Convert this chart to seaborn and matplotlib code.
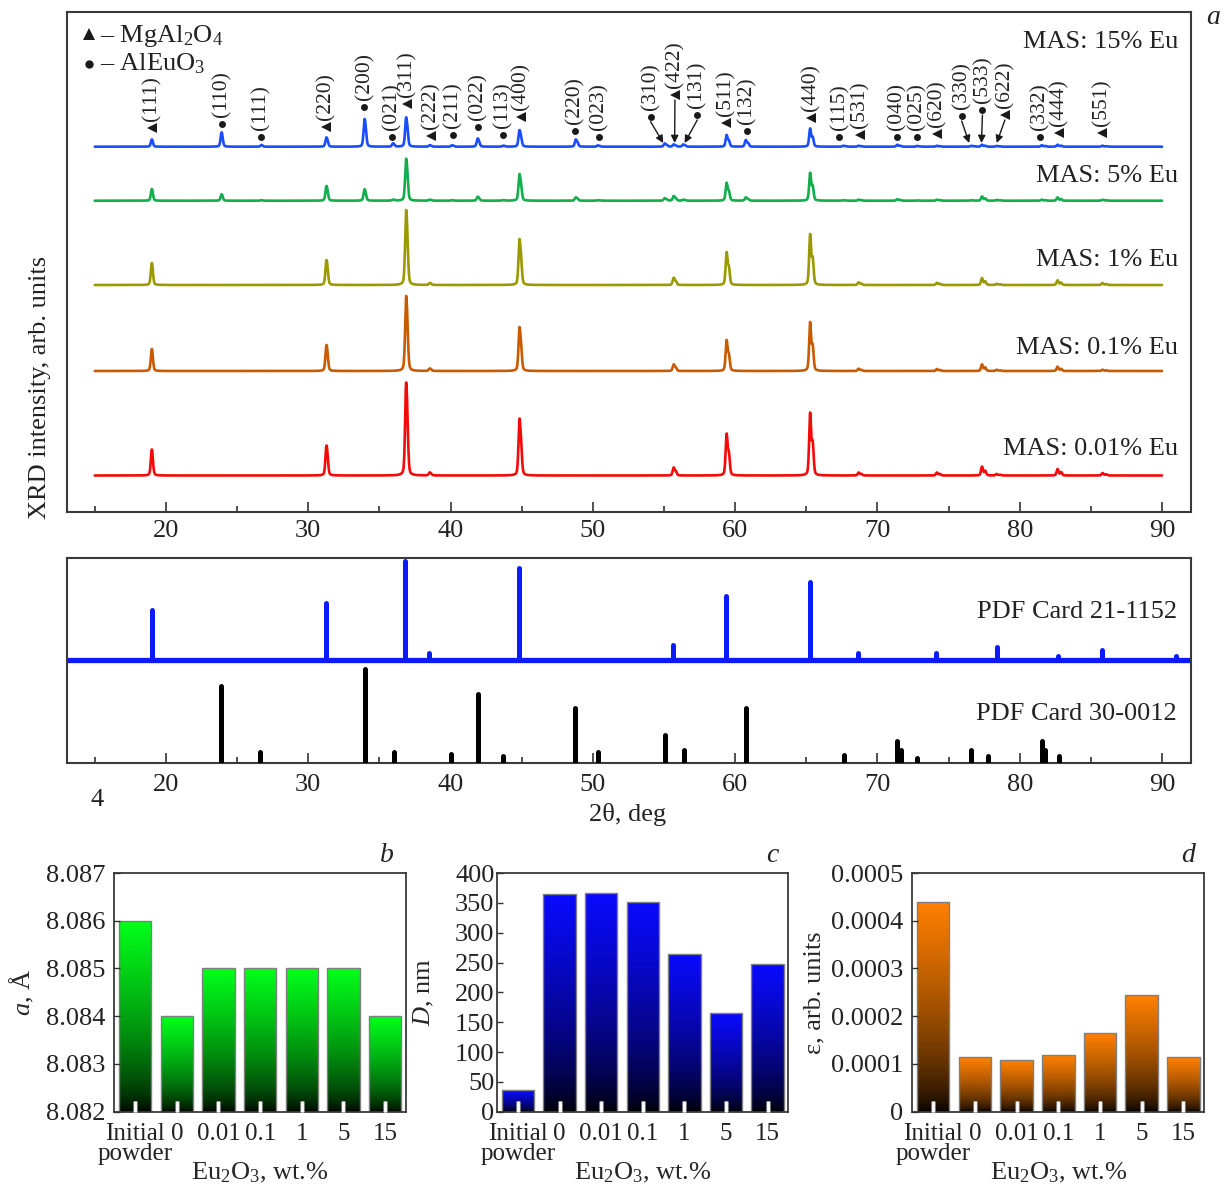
import numpy as np
import matplotlib
matplotlib.use('Agg')
import matplotlib.pyplot as plt
import matplotlib.patheffects as pe
from matplotlib.colors import LinearSegmentedColormap
import seaborn as sns

# ---------------- data ----------------
# panel a: MgAl2O4 reflections (2theta, deg) and peak heights above baseline (px)
mas_pos = [19.0, 31.27, 36.87, 38.53, 44.84, 55.68, 59.40, 65.27, 68.68, 74.18, 77.35, 78.38, 82.66, 85.82]
mas_h_001 = [26, 30, 93, 3, 57, 8, 42, 63, 3, 3, 9, 1.5, 6.5, 2.5]
mas_h_01 = [22, 26, 75, 2.5, 44, 6.7, 31, 49, 2.3, 2, 6.7, 1.2, 4.3, 1.3]
mas_h_1 = [22, 25, 75, 2, 46, 7.3, 33, 51, 2.7, 2.3, 7, 1.2, 4.7, 2]
mas_h_5 = [11.7, 14.7, 42, 1, 26.7, 4.7, 18, 28, 1, 1, 4.3, 0.8, 3.3, 1]
mas_h_15 = [7.3, 9.3, 29.3, 1.5, 16.7, 2.3, 11.7, 18.3, 1, 1, 2, 0.8, 2, 1]

# AlEuO3 reflections, only in the 5 % and 15 % samples
aeo_pos = [23.9, 26.7, 33.95, 35.95, 40.1, 41.9, 43.7, 48.8, 50.35, 55.05, 56.35, 60.75, 67.6, 71.4, 72.8, 76.6, 81.55]
aeo_h_5 = [6.4, 0.5, 11.4, 1, 0.5, 4, 0.5, 3.4, 0.5, 2.5, 1, 3.3, 0.5, 1.5, 0.3, 0.5, 1]
aeo_h_15 = [14.3, 1.7, 27.7, 3.3, 1.5, 8.3, 1, 7.3, 1.3, 3.3, 2.3, 6.7, 1, 2, 0.8, 1, 1.5]

sample_names = ['MAS: 0.01% Eu', 'MAS: 0.1% Eu', 'MAS: 1% Eu', 'MAS: 5% Eu', 'MAS: 15% Eu']
sample_colors = ['#f50a0a', '#c85a00', '#9a9a00', '#12ad4c', '#1a4dff']

# peak labels: text, phase (M = MgAl2O4, A = AlEuO3), x (deg), marker height (px)
lbl_text = ['(111)', '(110)', '(111)', '(220)', '(200)', '(021)', '(311)', '(222)', '(211)',
            '(022)', '(113)', '(400)', '(220)', '(023)', '(310)', '(422)', '(131)', '(511)',
            '(132)', '(440)', '(115)', '(531)', '(040)', '(025)', '(620)', '(330)', '(533)',
            '(622)', '(332)', '(444)', '(551)']
lbl_phase = ['M', 'A', 'A', 'M', 'A', 'A', 'M', 'M', 'A', 'A', 'A', 'M', 'A', 'A', 'A', 'M',
             'A', 'M', 'A', 'M', 'A', 'M', 'A', 'A', 'M', 'A', 'A', 'M', 'A', 'M', 'M']
lbl_x = [19.0, 23.91, 26.65, 31.22, 33.95, 35.86, 36.95, 38.6, 40.15, 41.95, 43.7, 44.95, 48.74,
         50.45, 54.06, 55.77, 57.34, 59.38, 60.81, 65.3, 67.33, 68.77, 71.35, 72.75, 74.16,
         75.92, 77.38, 78.96, 81.42, 82.78, 85.76]
lbl_y = [383.7, 388, 375.3, 385.3, 404.7, 375.3, 408, 376, 377, 385.3, 377, 395.3, 381.3, 374.7,
         395.3, 417, 397, 388.7, 381.3, 393.7, 375.3, 377, 375.3, 375.3, 378, 396, 402, 397,
         375.3, 379.3, 379.3]
# labels pointing with an arrow: label index -> peak (deg)
lbl_arrow = {14: 54.95, 15: 55.75, 16: 56.45, 25: 76.45, 26: 77.31, 27: 78.38}

# PDF cards (stick intensities, px)
card1_pos = [19.0, 31.25, 36.82, 38.5, 44.82, 55.63, 59.37, 65.26, 68.65, 74.15, 78.43, 82.69, 85.8, 91.0]
card1_int = [50, 57, 99, 7, 92, 15, 64, 78, 7.3, 6.7, 12.7, 4, 10, 4]
card2_pos = [23.84, 26.63, 33.97, 36.04, 40.05, 41.9, 43.7, 48.77, 50.38, 55.08, 56.4, 60.74,
             67.63, 71.39, 71.65, 72.8, 76.59, 77.78, 81.59, 81.77, 82.77]
card2_int = [76.7, 11, 94.3, 11, 8.7, 69.3, 6.7, 55.3, 11, 27.7, 13.3, 55.3, 8.3, 22, 13.3,
             5.3, 13.3, 6.7, 22, 13.3, 6.7]

# panels b-d
bar_cats = ['Initial\npowder', '0', '0.01', '0.1', '1', '5', '15']
lattice_a = [8.086, 8.084, 8.085, 8.085, 8.085, 8.085, 8.084]
cryst_D = [36, 365, 366, 352, 265, 166, 247]
strain = [0.00044, 0.000115, 0.000108, 0.000119, 0.000164, 0.000245, 0.000114]
a_ticks = [8.082, 8.083, 8.084, 8.085, 8.086, 8.087]
D_ticks = [0, 50, 100, 150, 200, 250, 300, 350, 400]
eps_ticks = [0, 0.0001, 0.0002, 0.0003, 0.0004, 0.0005]
eps_ticklabels = ['0', '0.0001', '0.0002', '0.0003', '0.0004', '0.0005']

# ---------------- style ----------------
sns.set_theme(style='ticks')
plt.rcParams['font.family'] = ['Liberation Serif', 'DejaVu Serif']
plt.rcParams['mathtext.fontset'] = 'custom'
plt.rcParams['mathtext.rm'] = 'Liberation Serif'
plt.rcParams['mathtext.it'] = 'Liberation Serif:italic'
plt.rcParams['font.size'] = 19
plt.rcParams['text.color'] = '#222222'
plt.rcParams['xtick.color'] = '#333333'
plt.rcParams['ytick.color'] = '#333333'
plt.rcParams['xtick.labelcolor'] = '#222222'
plt.rcParams['ytick.labelcolor'] = '#222222'
FS = 19
W, H = 1226, 1185
SPINE = '#3a3a3a'

fig = plt.figure(figsize=(W / 100, H / 100), dpi=100)


def px_axes(x0, y0, x1, y1):
    return fig.add_axes([x0 / W, 1 - y1 / H, (x1 - x0) / W, (y1 - y0) / H])


def style_spines(ax, lw=1.5):
    for s in ax.spines.values():
        s.set_visible(True)
        s.set_color(SPINE)
        s.set_linewidth(lw)


XLIM = (13.05, 92.0)
lam1, lam2 = 1.5406, 1.5444


def pattern(x, pos, hts, fwhm=0.16, eta=0.35):
    y = np.zeros_like(x)
    for p, h in zip(pos, hts):
        p2 = 2 * np.degrees(np.arcsin(lam2 / lam1 * np.sin(np.radians(p / 2))))
        shape = np.zeros_like(x)
        for c, amp in ((p, 1.0), (p2, 0.5)):
            d = (x - c) / (fwhm / 2)
            shape += amp * (eta / (1 + d ** 2) + (1 - eta) * np.exp(-np.log(2) * d ** 2))
        y += h * shape / shape.max()
    return y


# ---------------- panel a: XRD ----------------
ax = px_axes(67, 12, 1190.5, 512)
tt = np.arange(15, 90.0001, 0.01)
mas_sets = [mas_h_001, mas_h_01, mas_h_1, mas_h_5, mas_h_15]
aeo_sets = [None, None, None, aeo_h_5, aeo_h_15]
baselines = [36.5, 141, 227, 311.3, 365.3]
name_y = [63, 164, 252, 336, 470]
for mh, ah, base, col, name, ny in zip(mas_sets, aeo_sets, baselines, sample_colors,
                                      sample_names, name_y):
    y = pattern(tt, mas_pos, mh)
    if ah is not None:
        y = y + pattern(tt, aeo_pos, ah)
    sns.lineplot(x=tt, y=y + base, ax=ax, color=col, lw=1.9, estimator=None, sort=False)
    ax.text(0.989, ny, name, transform=ax.get_yaxis_transform(), ha='right', va='center',
            fontsize=FS)

for i, (t, ph, lx, ly) in enumerate(zip(lbl_text, lbl_phase, lbl_x, lbl_y)):
    if ph == 'M':
        ax.plot(lx, ly, marker='<', ms=7, color='k', mew=0, zorder=5)
    else:
        ax.plot(lx, ly, marker='o', ms=5, color='k', mew=0, zorder=5)
    ax.text(lx, ly + 7, t, rotation=90, rotation_mode='anchor', ha='left', va='center',
            fontsize=15.5, zorder=5)
    if i in lbl_arrow:
        ax.annotate('', xy=(lbl_arrow[i], 369), xytext=(lx, ly - 5),
                    arrowprops=dict(arrowstyle='-|>', color='k', lw=1.0,
                                    mutation_scale=11, shrinkA=0, shrinkB=0))

# phase legend
ax.plot(0.0198, 0.957, marker='^', ms=8, color='k', mew=0, transform=ax.transAxes)
ax.plot(0.0198, 0.897, marker='o', ms=6, color='k', mew=0, transform=ax.transAxes)
ax.text(0.0294, 0.9394, '– MgAl$_2$O$_4$', transform=ax.transAxes, va='baseline', fontsize=FS)
ax.text(0.0294, 0.884, '– AlEuO$_3$', transform=ax.transAxes, va='baseline', fontsize=FS)

ax.set_xlim(*XLIM)
ax.set_ylim(0, 500)
ax.set_yticks([])
ax.set_xticks(range(20, 91, 10))
ax.set_xticks(range(15, 90, 10), minor=True)
ax.tick_params(axis='x', which='major', direction='in', length=7, width=1.2, labelsize=FS, pad=6)
ax.tick_params(axis='x', which='minor', direction='in', length=4.3, width=1.2)
ax.set_xlabel('')
ax.set_ylabel('')
style_spines(ax)

# ---------------- PDF cards ----------------
ax2 = px_axes(67, 558, 1190.5, 763)
blue_base = 103
ax2.axhline(blue_base, color='#0a1cff', lw=3.8, zorder=2)
ax2.vlines(card1_pos, blue_base, blue_base + np.array(card1_int), color='#0a1cff', lw=3.6,
           capstyle='round', zorder=3)
ax2.vlines(card2_pos, 0, card2_int, color='black', lw=3.6, capstyle='round', zorder=3)
ax2.text(0.988, 151, 'PDF Card 21-1152', transform=ax2.get_yaxis_transform(), ha='right',
         va='center', fontsize=FS)
ax2.text(0.988, 49, 'PDF Card 30-0012', transform=ax2.get_yaxis_transform(), ha='right',
         va='center', fontsize=FS)
ax2.set_xlim(*XLIM)
ax2.set_ylim(0, 205)
ax2.set_yticks([])
ax2.set_xticks(range(20, 91, 10))
ax2.set_xticks(range(15, 90, 10), minor=True)
ax2.tick_params(axis='x', which='major', direction='in', length=7, width=1.2, labelsize=FS, pad=8)
ax2.tick_params(axis='x', which='minor', direction='in', length=4, width=1.2)
style_spines(ax2)

fig.text(628 / W, 1 - 814 / H, '2θ, deg', ha='center', va='center', fontsize=FS)
fig.text(40 / W, 1 - 387 / H, 'XRD intensity, arb. units', rotation=90, ha='center',
         va='center', fontsize=FS)
fig.text(97 / W, 1 - 800 / H, '4', ha='center', va='center', fontsize=FS)
fig.text(1213 / W, 1 - 18 / H, 'a', ha='center', va='center', fontsize=FS + 1, style='italic')


# ---------------- panels b-d ----------------
def gradient_bars(axb, color, ymin):
    cmap = LinearSegmentedColormap.from_list('grad', ['#000000', color])
    grad = np.linspace(0, 1, 256).reshape(-1, 1) ** 0.65
    for p in axb.patches:
        x0, w = p.get_x(), p.get_width()
        y1 = p.get_y() + p.get_height()
        y0 = max(p.get_y(), ymin)
        im = axb.imshow(grad, extent=[x0, x0 + w, y0, y1], origin='lower', aspect='auto',
                        cmap=cmap, vmin=0, vmax=1, zorder=1, interpolation='bilinear')
        im.set_clip_path(p)
        p.set_facecolor('none')
        p.set_zorder(2)


bar_specs = [
    ((114.3, 873, 406, 1111.7), lattice_a, '#00ff1a', (8.082, 8.087), a_ticks,
     ['%.3f' % v for v in a_ticks], '$a$, Å', -0.268, 6.5, 'b', 387),
    ((497.3, 873, 788.3, 1111.7), cryst_D, '#0a0aff', (0, 400), D_ticks,
     [str(v) for v in D_ticks], '$D$, nm', -0.211, 2, 'c', 772),
    ((912.3, 873, 1204.3, 1111.7), strain, '#ff8000', (0, 0.0005), eps_ticks,
     eps_ticklabels, 'ε, arb. units', -0.296, 6.5, 'd', 1188),
]
for box, vals, col, ylim, yt, ytl, ylab, ylx, ypad, letter, lx in bar_specs:
    axb = px_axes(*box)
    sns.barplot(x=bar_cats, y=vals, ax=axb, color=col, width=0.78, edgecolor='#7f7f7f',
                linewidth=1.0)
    gradient_bars(axb, col, ylim[0])
    axb.set_axisbelow(False)
    axb.set_xlim(-0.5, 6.5)
    axb.set_ylim(*ylim)
    axb.set_yticks(yt)
    axb.set_yticklabels(ytl)
    axb.tick_params(axis='y', direction='in', length=4, width=1.0, labelsize=FS, pad=ypad)
    axb.tick_params(axis='x', direction='in', length=8, width=2.0, color='white',
                    labelsize=18, pad=8)
    for tk in axb.xaxis.get_major_ticks():
        tk.tick1line.set_path_effects([pe.Stroke(linewidth=3.4, foreground='#8a8a8a'),
                                       pe.Normal()])
    for tl in axb.get_xticklabels():
        tl.set_linespacing(0.9)
    axb.set_ylabel(ylab, fontsize=FS)
    axb.yaxis.set_label_coords(ylx, 0.5)
    axb.set_xlabel('Eu$_2$O$_3$, wt.%', fontsize=FS)
    axb.xaxis.set_label_coords(0.5, -0.205)
    style_spines(axb, 1.3)
    fig.text(lx / W, 1 - 855 / H, letter, ha='center', va='center', fontsize=FS + 1,
             style='italic')

fig.savefig('out.png', dpi=100)
